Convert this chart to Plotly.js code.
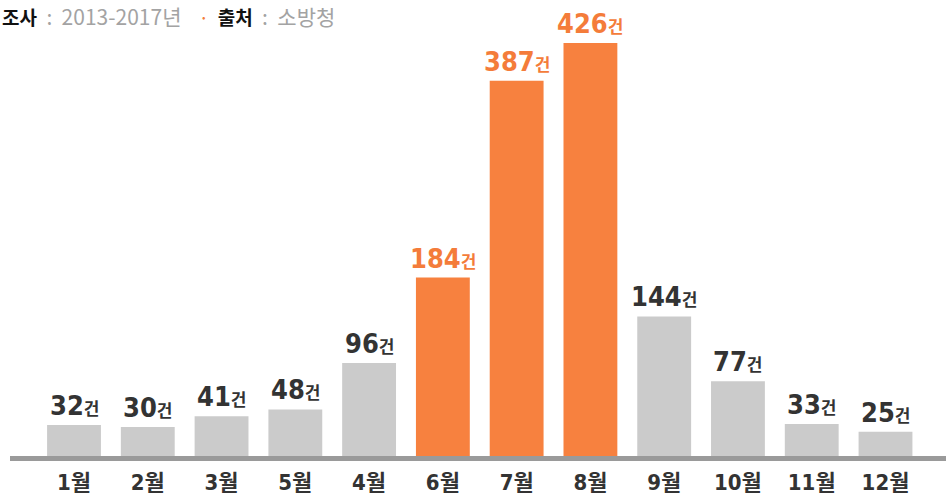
<!DOCTYPE html>
<html>
<head>
<meta charset="utf-8">
<script src="https://cdn.plot.ly/plotly-3.0.1.min.js"></script>
<style>html,body{margin:0;padding:0;background:#fff;}#chart{width:946px;height:494px;}</style>
</head>
<body>
<div id="chart"></div>
<script>
const months = ['1월','2월','3월','5월','4월','6월','7월','8월','9월','10월','11월','12월'];
const counts = [32, 30, 41, 48, 96, 184, 387, 426, 144, 77, 33, 25];
const highlighted = ['6월','7월','8월'];
const unit = '건';
const subtitleSurvey = '2013-2017년';
const subtitleSource = '소방청';

const ORANGE = '#f7813f';
const GRAY = '#cbcbcb';
const NUMFONT = 'DejaVu Sans Condensed, Noto Sans CJK KR, sans-serif';
const barColors = months.map(m => highlighted.includes(m) ? ORANGE : GRAY);
const textColors = months.map(m => highlighted.includes(m) ? '#f47c3a' : '#333333');

const trace = {
  type: 'bar',
  x: months,
  y: counts,
  marker: {color: barColors, line: {width: 0}},
  cliponaxis: false,
  hoverinfo: 'none'
};

const valueLabels = months.map((m, i) => ({
  x: m, y: counts[i], xref: 'x', yref: 'y',
  xanchor: 'center', yanchor: 'bottom', yshift: 2, showarrow: false,
  font: {family: NUMFONT, size: 27, color: textColors[i], weight: 700},
  text: '<b>' + counts[i] + '</b><span style="font-family:Noto Sans CJK KR;font-size:17px">' + unit + '</span>'
}));

const GRAYSPAN = '<span style="color:#a3a3a3;font-size:21px">';

const layout = {
  width: 946, height: 494,
  margin: {l: 10, r: 0, t: 20, b: 38},
  paper_bgcolor: '#ffffff', plot_bgcolor: '#ffffff',
  bargap: 0.27,
  showlegend: false,
  xaxis: {
    type: 'category',
    range: [-0.8676, 11.82],
    showline: true, linecolor: '#9a9a9a', linewidth: 5,
    ticks: '', showgrid: false, zeroline: false,
    ticklabelstandoff: 3,
    tickfont: {family: NUMFONT, size: 22, color: '#333333', weight: 700},
    fixedrange: true
  },
  yaxis: {
    range: [0, 449.7],
    visible: false, showgrid: false, zeroline: false, fixedrange: true
  },
  annotations: [{
    xref: 'paper', yref: 'paper', x: 0, y: 1, xshift: -10, yshift: 4,
    xanchor: 'left', yanchor: 'middle', showarrow: false,
    font: {family: 'Noto Sans CJK KR', size: 19, color: '#111111'},
    text: '<b>조사</b>' + GRAYSPAN + '  :  ' + subtitleSurvey + '</span>' +
          '<span style="color:#f47c3a">    ·  </span><b>출처</b>' +
          GRAYSPAN + '  :  ' + subtitleSource + '</span>'
  }].concat(valueLabels)
};

Plotly.newPlot('chart', [trace], layout, {displayModeBar: false, staticPlot: true});
</script>
</body>
</html>
